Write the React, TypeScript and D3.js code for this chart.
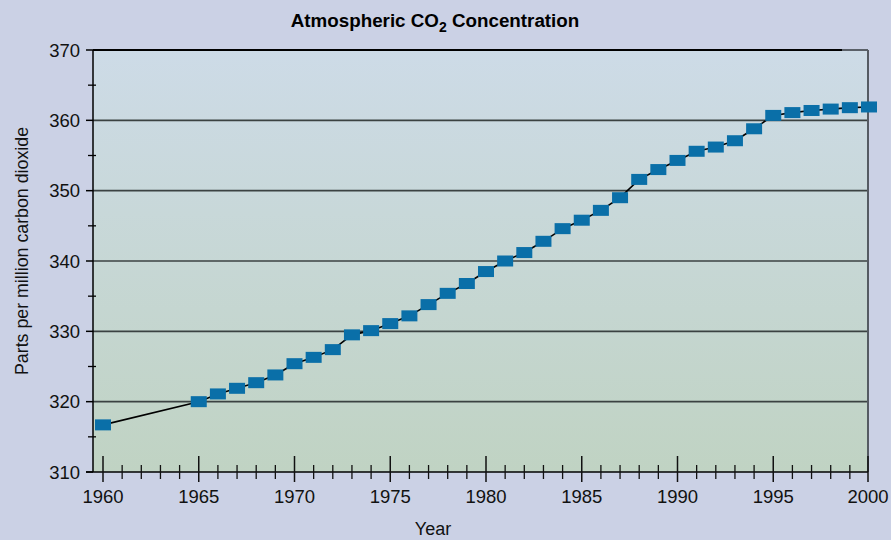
import React from "react";
import * as d3 from "d3";

const years = [1960, 1965, 1966, 1967, 1968, 1969, 1970, 1971, 1972, 1973, 1974, 1975, 1976, 1977, 1978, 1979, 1980, 1981, 1982, 1983, 1984, 1985, 1986, 1987, 1988, 1989, 1990, 1991, 1992, 1993, 1994, 1995, 1996, 1997, 1998, 1999, 2000];
const co2 = [316.7, 320.0, 321.1, 321.9, 322.7, 323.8, 325.4, 326.3, 327.4, 329.5, 330.1, 331.1, 332.2, 333.8, 335.4, 336.8, 338.5, 340.0, 341.2, 342.8, 344.6, 345.8, 347.2, 349.0, 351.6, 353.0, 354.3, 355.6, 356.2, 357.1, 358.8, 360.7, 361.1, 361.4, 361.6, 361.8, 361.9];
const yMajorTicks = [310, 320, 330, 340, 350, 360, 370];
const yMinorTicks = [315, 325, 335, 345, 355, 365];
const xMajorTicks = [1960, 1965, 1970, 1975, 1980, 1985, 1990, 1995, 2000];
const xAllYears = d3.range(1960, 2001);

const W = 891, H = 540;
const L = 93, R = 868, T = 50, B = 472;
const FONT = "'Liberation Sans', Arial, Helvetica, sans-serif";

export default function App() {
  const x = d3.scaleLinear().domain([1960, 2000]).range([103, 869]);
  const y = d3.scaleLinear().domain([310, 370]).range([B, T]);
  const data = years.map((yr, i) => ({ yr, v: co2[i] }));
  const line = d3.line<{ yr: number; v: number }>().x(d => x(d.yr)).y(d => y(d.v));
  const mw = 16, mh = 11;

  return (
    <svg width={W} height={H} style={{ position: "absolute", left: 0, top: 0 }} fontFamily={FONT}>
      <defs>
        <linearGradient id="plotBg" x1="0" y1="0" x2="0" y2="1">
          <stop offset="0" stopColor="rgb(205,219,231)" />
          <stop offset="1" stopColor="rgb(192,211,195)" />
        </linearGradient>
      </defs>
      <rect x={0} y={0} width={W} height={H} fill="rgb(203,209,229)" />
      <rect x={L} y={T} width={R - L} height={B - T} fill="url(#plotBg)" />

      {/* gridlines */}
      {yMajorTicks.filter(t => t > 310 && t < 370).map(t => (
        <line key={"g" + t} x1={L} x2={R} y1={y(t)} y2={y(t)} stroke="#3b4242" strokeWidth={1.6} />
      ))}
      {/* top border */}
      <line x1={L} x2={842} y1={y(370)} y2={y(370)} stroke="#000" strokeWidth={2} />
      <line x1={842} x2={R} y1={y(370)} y2={y(370)} stroke="#5a6068" strokeWidth={2} />
      {/* right border */}
      <line x1={R} x2={R} y1={T} y2={B} stroke="#555b63" strokeWidth={2} />
      {/* left axis */}
      <line x1={L} x2={L} y1={T} y2={B} stroke="#000" strokeWidth={1.5} />
      {yMajorTicks.map(t => (
        <g key={"ym" + t}>
          <line x1={L - 7} x2={L} y1={y(t)} y2={y(t)} stroke="#000" strokeWidth={1.5} />
          <text x={80} y={y(t)} dy="0.36em" textAnchor="end" fontSize={18.5} fill="#111">{t}</text>
        </g>
      ))}
      {yMinorTicks.map(t => (
        <line key={"yn" + t} x1={L - 5} x2={L + 3} y1={y(t)} y2={y(t)} stroke="#000" strokeWidth={1.3} />
      ))}
      {/* bottom axis */}
      <line x1={L - 7} x2={R} y1={B} y2={B} stroke="#000" strokeWidth={1.5} />
      {xAllYears.filter(v => !xMajorTicks.includes(v)).map(v => (
        <line key={"xn" + v} x1={x(v)} x2={x(v)} y1={465} y2={479} stroke="#111" strokeWidth={1.3} />
      ))}
      {xMajorTicks.map(v => (
        <g key={"xm" + v}>
          <line x1={Math.min(x(v), R)} x2={Math.min(x(v), R)} y1={456} y2={482} stroke="#111" strokeWidth={1.5} />
          <text x={Math.min(x(v), R)} y={503} textAnchor="middle" fontSize={18.5} fill="#111">{v}</text>
        </g>
      ))}

      {/* series */}
      <path d={line(data) || ""} fill="none" stroke="#000" strokeWidth={1.6} />
      {data.map(d => (
        <rect key={"m" + d.yr} x={x(d.yr) - mw / 2} y={y(d.v) - mh / 2} width={mw} height={mh} fill="rgb(10,111,168)" />
      ))}

      {/* title */}
      <text x={435} y={27} textAnchor="middle" fontSize={18.8} fontWeight="bold" fill="#000">
        Atmospheric CO<tspan fontSize={14} dy={5}>2</tspan><tspan dy={-5}> Concentration</tspan>
      </text>
      {/* axis labels */}
      <text transform={`translate(28,251) rotate(-90)`} textAnchor="middle" fontSize={17.8} fill="#111">
        Parts per million carbon dioxide
      </text>
      <text x={433} y={535} textAnchor="middle" fontSize={18} fill="#111">Year</text>
    </svg>
  );
}
